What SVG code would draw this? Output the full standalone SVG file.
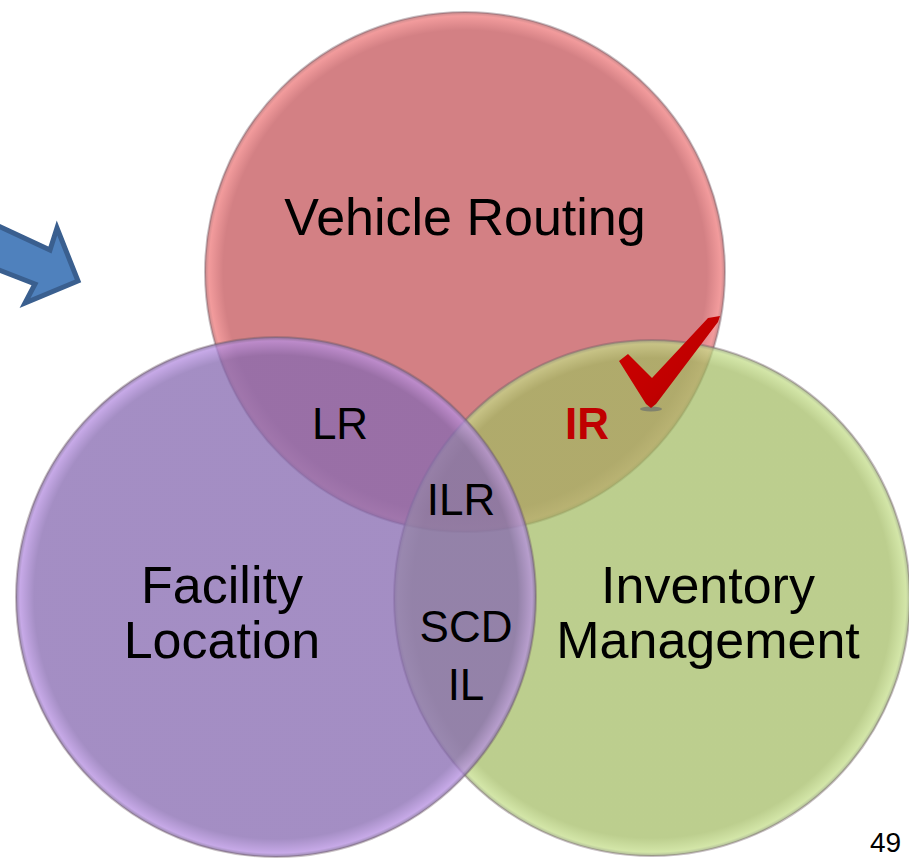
<svg xmlns="http://www.w3.org/2000/svg" width="909" height="858" viewBox="0 0 909 858">
  <defs>
    <style>
      .lbl { font-family: "Liberation Sans", Arial, sans-serif; fill: #000; text-anchor: middle; }
      .big { font-size: 52px; }
      .small { font-size: 44px; }
      .rim { fill: none; stroke: #6e5a63; stroke-opacity: 0.38; stroke-width: 2; }
    </style>
    <radialGradient id="gRed" cx="0.5" cy="0.5" r="0.5">
      <stop offset="0" stop-color="#d38084"/>
      <stop offset="0.93" stop-color="#d38084"/>
      <stop offset="0.985" stop-color="#f29b9c"/>
      <stop offset="1" stop-color="#c88a8c"/>
    </radialGradient>
    <radialGradient id="gGreen" cx="0.5" cy="0.5" r="0.5">
      <stop offset="0" stop-color="#a2bb62" stop-opacity="0.72"/>
      <stop offset="0.93" stop-color="#a2bb62" stop-opacity="0.72"/>
      <stop offset="0.985" stop-color="#c2dc86" stop-opacity="0.72"/>
      <stop offset="1" stop-color="#9aa880" stop-opacity="0.8"/>
    </radialGradient>
    <radialGradient id="gPurple" cx="0.5" cy="0.5" r="0.5">
      <stop offset="0" stop-color="#876ab1" stop-opacity="0.76"/>
      <stop offset="0.93" stop-color="#876ab1" stop-opacity="0.76"/>
      <stop offset="0.985" stop-color="#b58ee0" stop-opacity="0.76"/>
      <stop offset="1" stop-color="#7f6c98" stop-opacity="0.8"/>
    </radialGradient>
    <linearGradient id="gCheck" x1="0" y1="0" x2="1" y2="1">
      <stop offset="0" stop-color="#d00000"/>
      <stop offset="0.6" stop-color="#c00000"/>
      <stop offset="1" stop-color="#9e0000"/>
    </linearGradient>
  </defs>

  <rect width="909" height="858" fill="#ffffff"/>

  <!-- block arrow at upper left -->
  <g id="arrow">
    <polygon points="-6,224 50,250 57,228 78,281 25,303 35,284 -6,268"
             fill="#4f81bd" stroke="#3a5f8f" stroke-width="5" stroke-linejoin="miter"/>
  </g>

  <!-- the three sets -->
  <g id="vehicle-routing">
    <circle cx="465" cy="272" r="260" fill="url(#gRed)"/>
    <circle class="rim" cx="465" cy="272" r="260"/>
  </g>
  <g id="inventory-management">
    <circle cx="652" cy="598" r="258" fill="url(#gGreen)"/>
    <circle class="rim" cx="652" cy="598" r="258"/>
  </g>
  <g id="facility-location">
    <circle cx="276" cy="597" r="260" fill="url(#gPurple)"/>
    <circle class="rim" cx="276" cy="597" r="260"/>
  </g>

  <!-- set names -->
  <g id="labels">
    <text class="lbl big" x="465" y="235">Vehicle Routing</text>
    <text class="lbl big" x="222" y="603">Facility</text>
    <text class="lbl big" x="222" y="658">Location</text>
    <text class="lbl big" x="708" y="603">Inventory</text>
    <text class="lbl big" x="708" y="658">Management</text>
  </g>

  <!-- intersection labels -->
  <g id="intersections">
    <text class="lbl small" x="340" y="439">LR</text>
    <text class="lbl small" x="587" y="439" font-weight="bold" style="fill:#c00000">IR</text>
    <text class="lbl small" x="461" y="515">ILR</text>
    <text class="lbl small" x="466" y="642">SCD</text>
    <text class="lbl small" x="466" y="700">IL</text>
  </g>

  <!-- check mark -->
  <g id="check">
    <ellipse cx="651" cy="409" rx="11" ry="2.5" fill="#5a6070" opacity="0.55"/>
    <path d="M619,361 L628,354 L652,378 L708,318 L720,316 L718,322 L656,404 L651,408 L646,404 Z"
          fill="url(#gCheck)"/>
  </g>

  <!-- page number -->
  <text class="lbl" x="870" y="852" style="text-anchor:start; font-size:28px">49</text>
</svg>
